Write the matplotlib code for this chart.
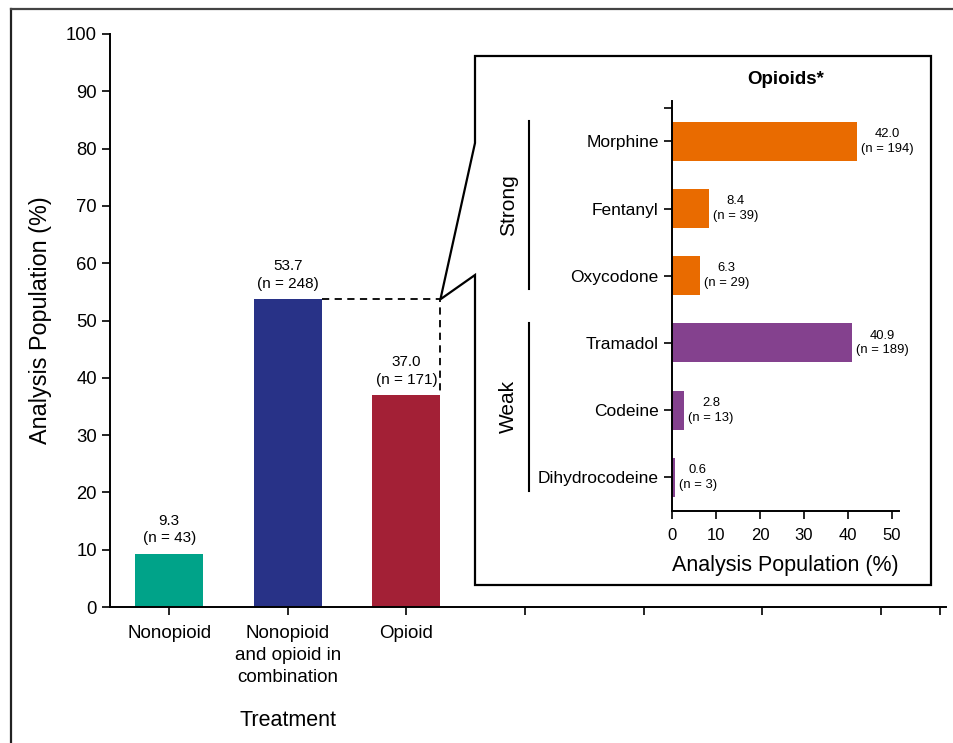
import matplotlib.pyplot as plt
from matplotlib.lines import Line2D
from matplotlib.patches import Polygon
import matplotlib.transforms as mtransforms

plt.rcParams['font.family'] = ['Liberation Sans', 'DejaVu Sans']

# main chart data
treatments = ['Nonopioid', 'Nonopioid\nand opioid in\ncombination', 'Opioid']
treat_pct = [9.3, 53.7, 37.0]
treat_n = [43, 248, 171]
treat_colors = ['#00a389', '#283287', '#a32036']

# inset data
opioids = ['Morphine', 'Fentanyl', 'Oxycodone', 'Tramadol', 'Codeine', 'Dihydrocodeine']
opioid_pct = [42.0, 8.4, 6.3, 40.9, 2.8, 0.6]
opioid_n = [194, 39, 29, 189, 13, 3]
opioid_group = ['Strong', 'Strong', 'Strong', 'Weak', 'Weak', 'Weak']
group_colors = {'Strong': '#e96b00', 'Weak': '#84418e'}

W, H = 954, 743
fig = plt.figure(figsize=(W / 100, H / 100), dpi=100)

# outer frame (left and top only, rest is cropped)
fig.add_artist(Line2D([11 / W, 11 / W], [0, 1 - 9 / H], transform=fig.transFigure, color='#222222', lw=1.6))
fig.add_artist(Line2D([11 / W, 1], [1 - 9 / H, 1 - 9 / H], transform=fig.transFigure, color='#444444', lw=1.6))

ax = fig.add_axes([110 / W, 1 - 607 / H, (946 - 110) / W, (607 - 34) / H])
bw = 0.573
xs = list(range(len(treatments)))
ax.bar(xs, treat_pct, width=bw, color=treat_colors, zorder=2)
for x, v, n in zip(xs, treat_pct, treat_n):
    ax.annotate(f'{v:.1f}\n(n = {n})', (x, v), xytext=(0, 6), textcoords='offset points',
                ha='center', va='bottom', fontsize=11, linespacing=1.35)

ax.set_xlim(-0.5, 6.55)
ax.set_ylim(0, 100)
ax.set_yticks(range(0, 101, 10))
ax.set_xticks(list(range(7)) + [6.5])
ax.set_xticklabels(treatments + [''] * 5, fontsize=13.5, linespacing=1.38)
ax.tick_params(axis='y', labelsize=13.3, length=6, width=1.2)
ax.tick_params(axis='x', length=6, width=1.2, pad=7)
for s in ['top', 'right']:
    ax.spines[s].set_visible(False)
for s in ['left', 'bottom']:
    ax.spines[s].set_linewidth(1.4)
ax.set_ylabel('Analysis Population (%)', fontsize=16.8, labelpad=10)
ax.text(1, -19.8, 'Treatment', ha='center', va='center', fontsize=15.5)

# dashed connector from combination bar to opioid bar
xr = 2 + bw / 2
ax.plot([1 + bw / 2, xr, xr], [treat_pct[1], treat_pct[1], treat_pct[2]],
        color='black', lw=1.3, ls=(0, (4, 3)), zorder=3)

# inset box with pointer to the opioid bar
apex = fig.transFigure.inverted().transform(ax.transData.transform((xr, treat_pct[1])))
bl, br, bt, bb = 475 / W, 931 / W, 1 - 56 / H, 1 - 585 / H
box = Polygon([(br, bt), (bl, bt), (bl, 1 - 143 / H), tuple(apex), (bl, 1 - 275 / H), (bl, bb), (br, bb)],
              closed=True, fill=False, edgecolor='black', lw=1.6, transform=fig.transFigure)
fig.add_artist(box)

ax2 = fig.add_axes([672 / W, 1 - 511 / H, (899 - 672) / W, (511 - 101) / H])
ys = list(range(len(opioids)))
ax2.barh(ys, opioid_pct, height=0.58, color=[group_colors[g] for g in opioid_group])
for y, v, n in zip(ys, opioid_pct, opioid_n):
    ax2.annotate(f'{v:.1f}\n(n = {n})', (v, y), xytext=(3, 0), textcoords='offset points',
                 ha='left', va='center', multialignment='center', fontsize=9.4, linespacing=1.3)
ax2.set_ylim(5.5, -0.6)
ax2.set_xlim(0, 51.6)
ax2.set_yticks([-0.5] + ys)
ax2.set_yticklabels([''] + opioids, fontsize=12.5)
ax2.set_xticks(range(0, 51, 10))
ax2.tick_params(axis='x', labelsize=12, length=6, width=1.2, pad=6)
ax2.tick_params(axis='y', length=6, width=1.2)
for s in ['top', 'right']:
    ax2.spines[s].set_visible(False)
for s in ['left', 'bottom']:
    ax2.spines[s].set_linewidth(1.4)
ax2.set_xlabel('Analysis Population (%)', fontsize=15.5, labelpad=9)
ax2.set_title('Opioids*', fontsize=13.5, fontweight='bold', pad=12)

# strong / weak brackets
trans = mtransforms.blended_transform_factory(ax2.transAxes, ax2.transData)
for grp in ['Strong', 'Weak']:
    idx = [i for i, g in enumerate(opioid_group) if g == grp]
    y0, y1 = idx[0] - 0.3, idx[-1] + 0.2
    ax2.add_line(Line2D([-0.63, -0.63], [y0, y1], transform=trans, color='black', lw=1.5, clip_on=False))
    ax2.text(-0.72, (y0 + y1) / 2, grp, transform=trans, rotation=90, ha='center', va='center', fontsize=15)

plt.savefig('out.png', dpi=100)
